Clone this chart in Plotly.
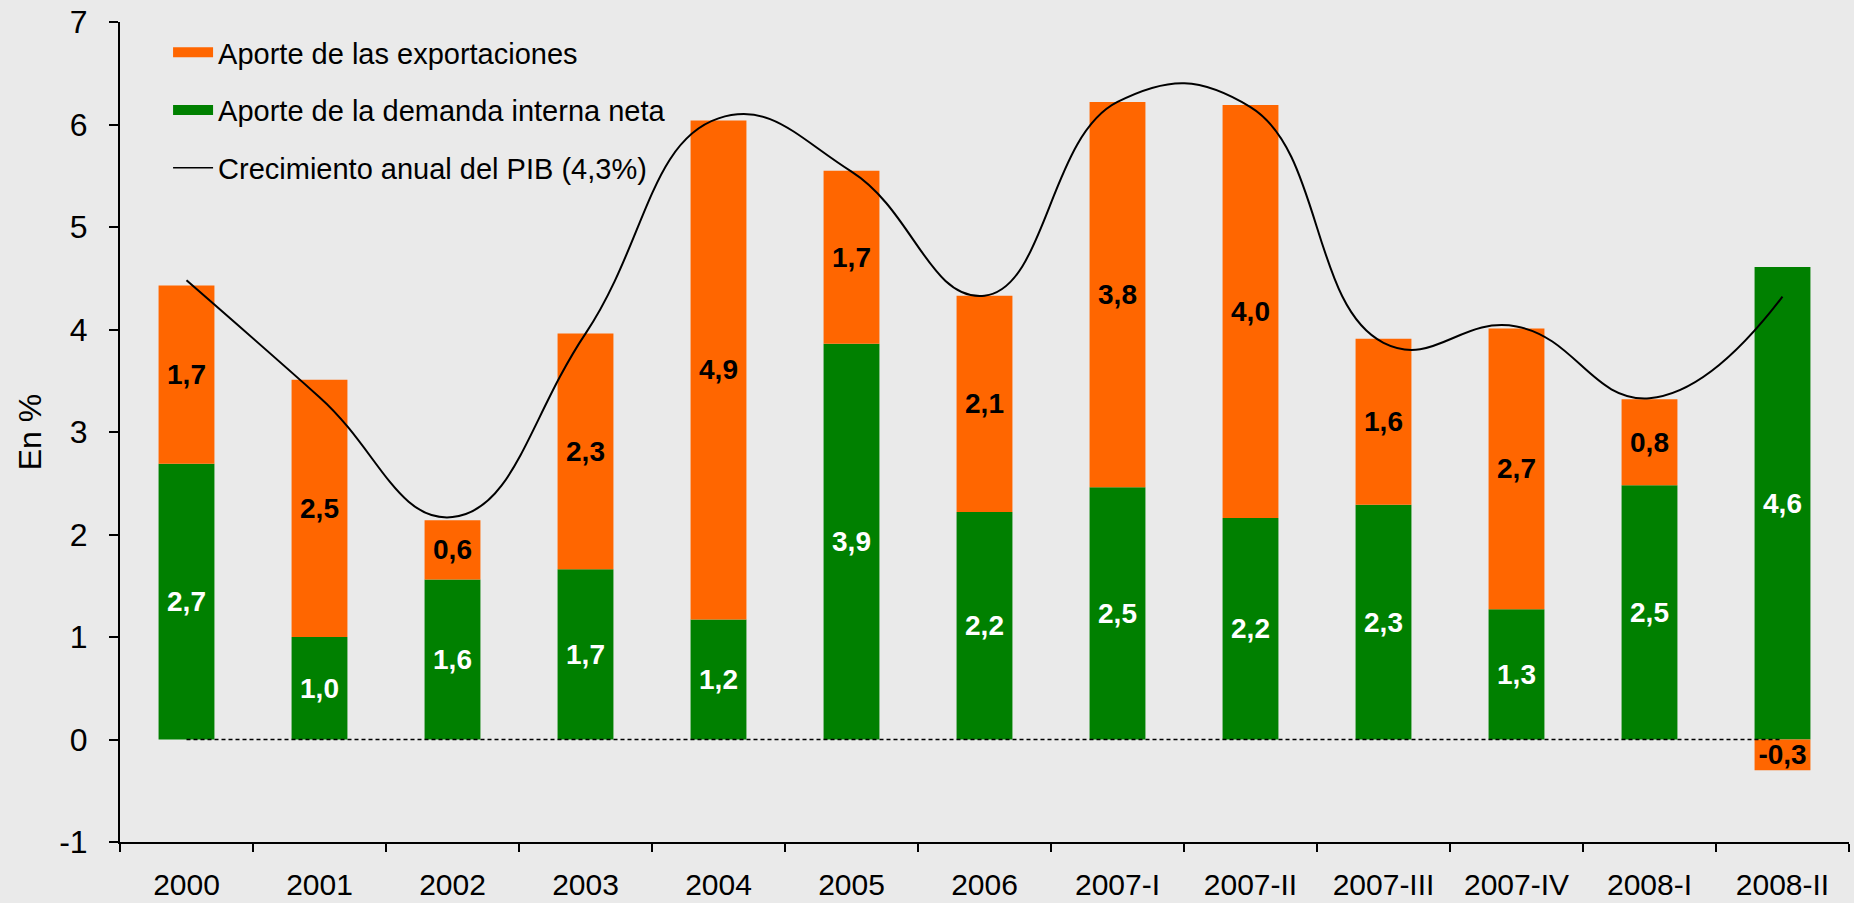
import plotly.graph_objects as go

categories = ["2000", "2001", "2002", "2003", "2004", "2005", "2006",
              "2007-I", "2007-II", "2007-III", "2007-IV", "2008-I", "2008-II"]
demanda_interna = [2.69, 1.00, 1.56, 1.66, 1.17, 3.86, 2.22, 2.46, 2.16, 2.29, 1.27, 2.48, 4.61]
exportaciones = [1.74, 2.51, 0.58, 2.30, 4.87, 1.69, 2.11, 3.76, 4.03, 1.62, 2.74, 0.84, -0.30]
pib = [4.48, 3.34, 2.17, 3.96, 6.06, 5.54, 4.33, 6.22, 6.17, 3.87, 4.03, 3.33, 4.32]
y_ticks = [-1, 0, 1, 2, 3, 4, 5, 6, 7]

name_exp = "Aporte de las exportaciones"
name_dem = "Aporte de la demanda interna neta"
name_pib = "Crecimiento anual del PIB (4,3%)"

ORANGE = "#FF6600"
GREEN = "#008000"
BG = "#EAEAEA"
FONT = "Liberation Sans, Arial, sans-serif"


def fmt(v):
    return f"{v:.1f}".replace(".", ",")


fig = go.Figure()

fig.add_trace(go.Bar(
    x=categories, y=demanda_interna, name=name_dem, showlegend=False,
    marker=dict(color=GREEN, line=dict(width=0)),
    text=[fmt(v) for v in demanda_interna], textposition="inside",
    insidetextanchor="middle", textangle=0, constraintext="none",
    textfont=dict(family=FONT, size=28, color="white", weight="bold"),
))
fig.add_trace(go.Bar(
    x=categories, y=exportaciones, name=name_exp, showlegend=False,
    marker=dict(color=ORANGE, line=dict(width=0)),
    text=[fmt(v) for v in exportaciones], textposition="inside",
    insidetextanchor="middle", textangle=0, constraintext="none",
    textfont=dict(family=FONT, size=28, color="black", weight="bold"),
))
# zero reference line (dashed)
fig.add_trace(go.Scatter(
    x=categories, y=[0] * len(categories), mode="lines", showlegend=False,
    line=dict(color="black", width=1.3, dash="4px,3px"), hoverinfo="skip",
))
fig.add_trace(go.Scatter(
    x=categories, y=pib, name=name_pib, mode="lines", showlegend=False,
    line=dict(color="black", width=2, shape="spline", smoothing=1.3),
))

# legend entries
for nm, col, w, grp in [(name_exp, ORANGE, 14, "a"), (name_dem, GREEN, 14, "b"), (name_pib, "black", 1.5, "c")]:
    fig.add_trace(go.Scatter(
        x=[None], y=[None], mode="lines", name=nm, legendgroup=grp,
        line=dict(color=col, width=w), showlegend=True,
    ))

fig.update_layout(
    width=1854, height=903,
    barmode="relative", bargap=0.58,
    paper_bgcolor=BG, plot_bgcolor=BG,
    margin=dict(l=120, r=5, t=22, b=61, autoexpand=False),
    font=dict(family=FONT, color="black"),
    legend=dict(
        x=0.0278, y=0.994, xanchor="left", yanchor="top",
        bgcolor="rgba(0,0,0,0)", font=dict(size=29, family=FONT),
        tracegroupgap=17, traceorder="grouped", itemwidth=40,
    ),
    xaxis=dict(
        type="category", showline=True, linecolor="black", linewidth=2,
        ticks="outside", tickson="boundaries", ticklen=8, tickwidth=2, tickcolor="black",
        showgrid=False, tickfont=dict(size=30, family=FONT), ticklabelstandoff=15,
        fixedrange=True, automargin=False, ticklabeloverflow="allow",
    ),
    yaxis=dict(
        range=[-1, 7], tickvals=y_ticks, ticktext=[str(t) for t in y_ticks],
        showline=True, linecolor="black", linewidth=2,
        ticks="outside", ticklen=9, tickwidth=2, tickcolor="black",
        showgrid=False, zeroline=False, tickfont=dict(size=32, family=FONT),
        ticklabelstandoff=15, automargin=False, ticklabeloverflow="allow",
        title=dict(text="En %", font=dict(size=32, family=FONT), standoff=8),
    ),
)

fig.write_html("out.html", config={"displayModeBar": False},
               post_script="document.body.style.margin='0';")
